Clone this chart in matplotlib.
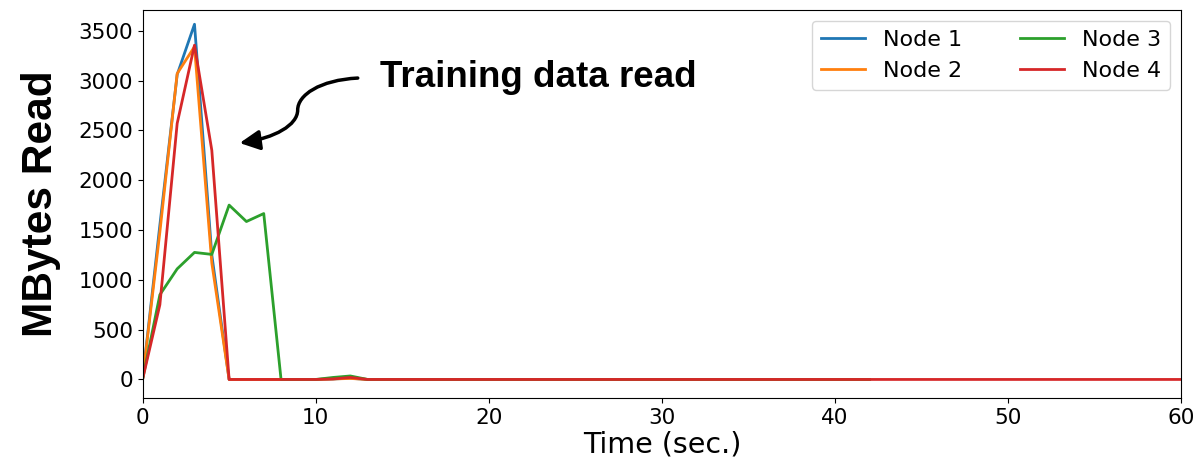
import matplotlib.pyplot as plt
from matplotlib.patches import FancyArrowPatch
from matplotlib.path import Path

# seconds 0..13, flat zero afterwards
node1 = [0, 1550, 3060, 3565, 1250, 0, 0, 0, 0, 0, 0, 5, 12, 0] + [0] * 29
node2 = [0, 1480, 3070, 3340, 1170, 0, 0, 0, 0, 0, 0, 5, 10, 0] + [0] * 29
node3 = [0, 850, 1110, 1275, 1255, 1750, 1585, 1665, 0, 0, 0, 20, 35, 0] + [0] * 29
node4 = [0, 750, 2570, 3355, 2300, 0, 0, 0, 0, 0, 0, 5, 20, 0] + [0] * 47
series = [("Node 1", node1), ("Node 2", node2), ("Node 3", node3), ("Node 4", node4)]

fig = plt.figure(figsize=(11.98, 4.67), dpi=100)
ax = fig.add_axes([0.119, 0.148, 0.867, 0.831])

for name, vals in series:
    ax.plot(range(len(vals)), vals, lw=2, label=name)

ax.set_xlim(0, 60)
ax.set_ylim(-185, 3710)
ax.set_yticks(range(0, 3501, 500))
ax.tick_params(labelsize=15.5)
ax.set_xlabel("Time (sec.)", fontsize=20.5, labelpad=2)
ax.set_ylabel("MBytes Read", fontsize=30.5, fontweight="bold",
              family="Liberation Sans", labelpad=12)
ax.legend(ncol=2, fontsize=16, loc="upper right", columnspacing=2.6, handlelength=2)

ax.text(13.7, 3030, "Training data read", fontsize=26.5, fontweight="bold",
        family="Liberation Sans", va="center")

# S-shaped arrow pointing to the peaks
verts = [(12.43, 3025), (10.23, 3005), (8.96, 2854), (8.96, 2704),
         (8.96, 2553), (7.63, 2423), (5.61, 2373)]
codes = [Path.MOVETO] + [Path.CURVE4] * 6
arrow = FancyArrowPatch(path=Path(verts, codes), arrowstyle="-|>",
                        mutation_scale=30, lw=2.5, color="black")
ax.add_patch(arrow)

fig.savefig("out.png", dpi=100)
